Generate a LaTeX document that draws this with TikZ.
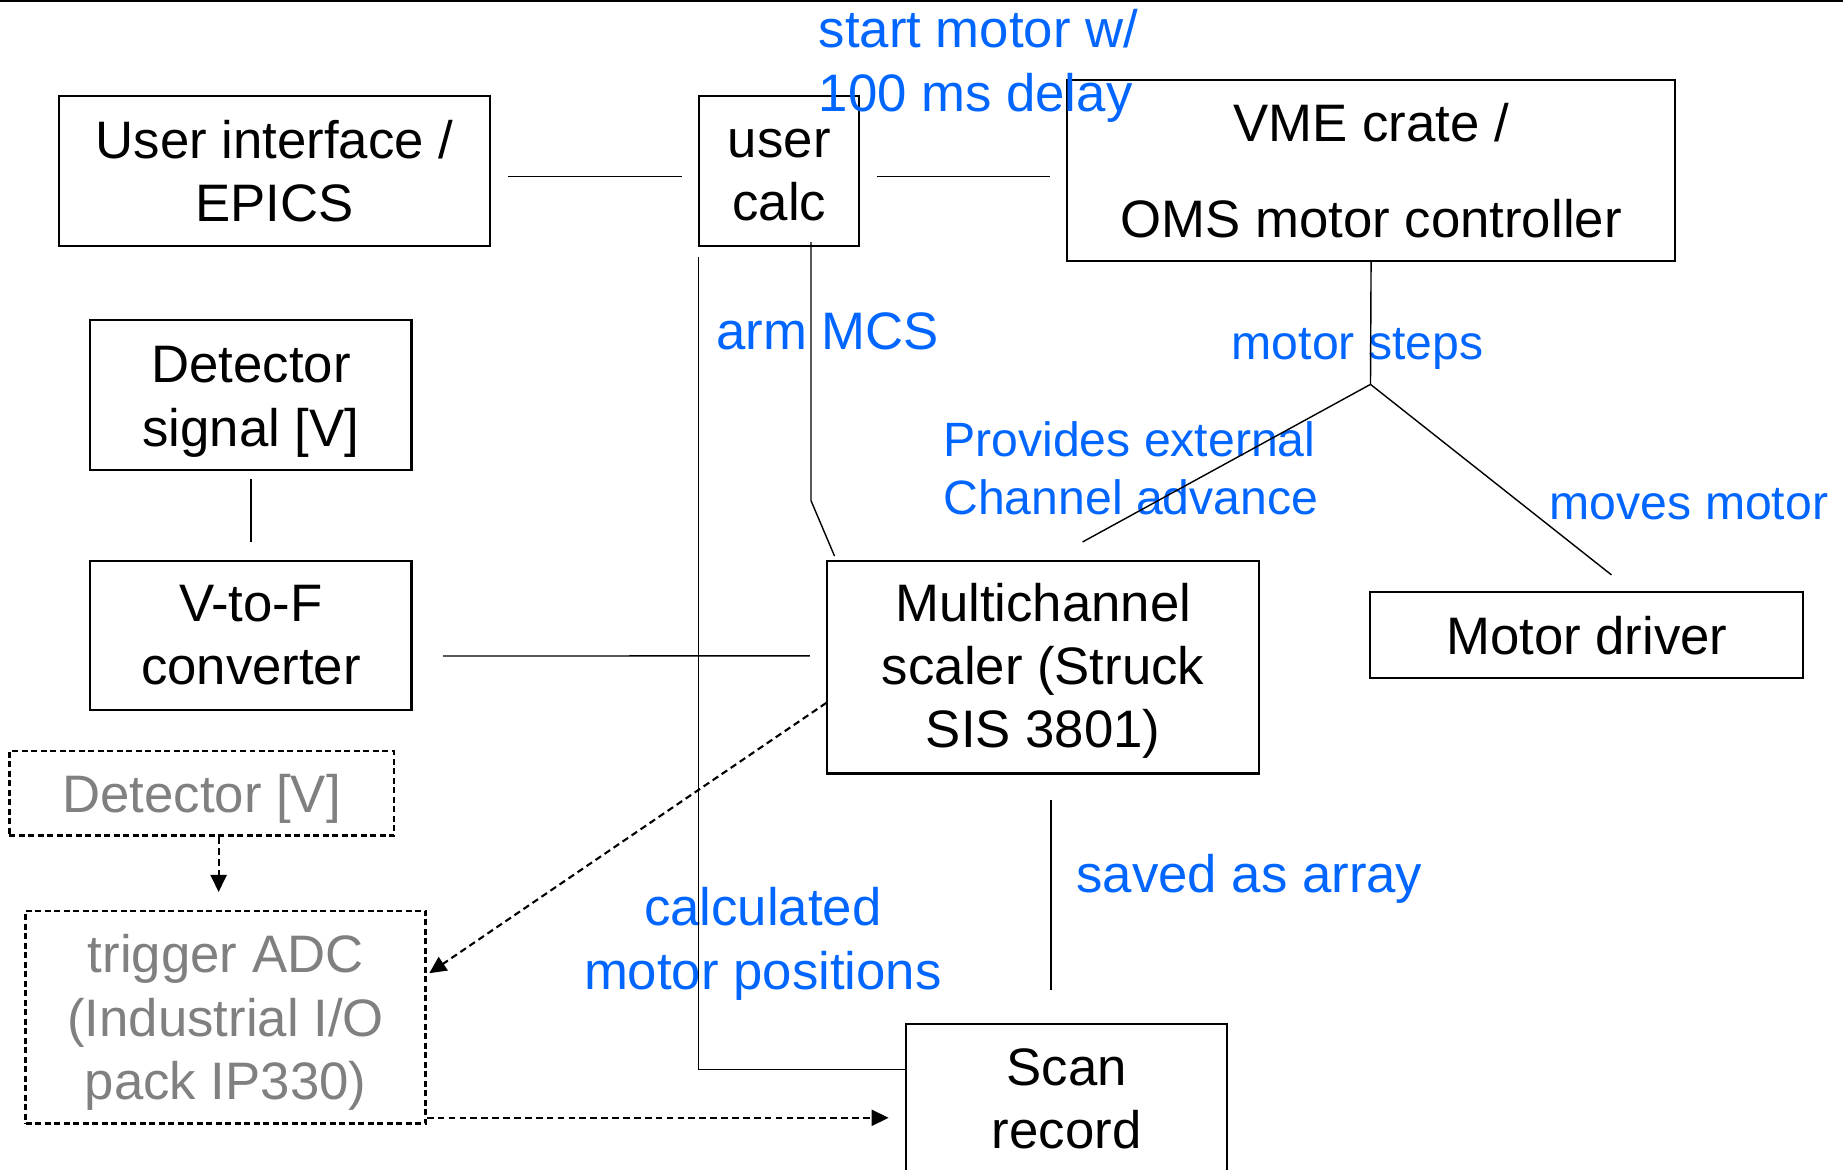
\documentclass[tikz,border=0pt]{standalone}
\usepackage{fontspec}
\setmainfont{Liberation Sans}
\usepackage{xcolor}
\usepackage{tikz}
\usetikzlibrary{arrows.meta}
\usetikzlibrary{calc}
\definecolor{labelblue}{RGB}{0,102,255}
\definecolor{softgray}{RGB}{128,128,128}
\newcommand{\boxfont}{\fontsize{15}{18}\selectfont}
\newcommand{\smallboxfont}{\fontsize{13.7}{16.4}\selectfont}
\newcommand{\topstrut}[1]{\rule{0pt}{#1}}
\tikzset{
	box node/.style={rectangle,draw,semithick,align=center,inner sep=0pt,font=\boxfont},
	dash node/.style={box node,line width=0.75pt,dash pattern=on 1.7pt off 1pt,text=softgray},
	label text/.style={rectangle,text=labelblue,inner sep=0pt,font=\boxfont},
	small label/.style={label text,font=\smallboxfont},
	dash arrow/.style={-{Triangle[length=1.7mm,width=1.6mm]},semithick,dash pattern=on 1.9pt off 1.2pt}
}

\begin{document}
\begin{tikzpicture}[x=0.011754cm,y=-0.011754cm,thin,node distance=2.404cm]
		\useasboundingbox (0,0) rectangle (1568,995);
		\draw[line width=1.4pt] (0,0) -- (1568,0);

		\node[box node,minimum width=4.314cm,minimum height=1.493cm] (1) at (233.5,145.5) {User interface /\\EPICS};
		\node[box node,minimum width=1.599cm,minimum height=1.493cm] (2) at (663,145.5)   {\topstrut{10.4pt}user\\calc};
		\node[box node,minimum width=6.077cm,minimum height=1.810cm] (3) at (1166.5,145)  {VME crate /\\[9.3pt]OMS motor controller};
		\node[box node,minimum width=3.209cm,minimum height=1.504cm] (4) at (213.5,336)   {\topstrut{14.3pt}Detector\\signal [V]};
		\node[box node,minimum width=3.209cm,minimum height=1.493cm] (5) [below of=4]     {V-to-F\\converter};
		\node[box node,minimum width=4.314cm,minimum height=2.127cm] (6) at (887.5,567.5) {\topstrut{13pt}Multichannel\\scaler (Struck\\SIS 3801)};
		\node[box node,minimum width=4.325cm,minimum height=0.858cm] (7) at (1350,540.5)  {Motor driver};
		\node[box node,minimum width=3.209cm,minimum height=1.504cm] (8) at (907.5,935)   {Scan\\record};
		\node[dash node,minimum width=3.844cm,minimum height=0.846cm] (9) at (171.5,675)  {\topstrut{14pt}Detector [V]};
		\node[dash node,minimum width=3.996cm,minimum height=2.127cm] (10) at (192,865.5) {\topstrut{13.8pt}trigger ADC\\(Industrial I/O\\pack IP330)};
		\coordinate (11) at (1166,327);

		\node[label text,anchor=west,align=left] (l1) at (696,56)     {start motor w/\\[0.3pt]100 ms delay};
		\node[label text]                        (l2) at (704,282)    {arm MCS};
		\node[small label]                       (l3) at (1155,297)   {motor steps};
		\node[small label,anchor=west,align=left] (l4) at (802,398.5) {Provides external\\Channel advance};
		\node[small label]                       (l5) at (1437,429)   {moves motor};
		\node[label text]                        (l6) at (1063,748)   {saved as array};
		\node[label text,align=center]           (l7) at (649,803)    {calculated\\motor positions};

		\path
		  ($(1.east)+(14,4.5)$) edge ($(2.west)+(-14,4.5)$)
		  ($(2.east)+(14,4.5)$) edge ($(3.west)+(-14,5)$)
		  ($(4.south)+(0,7)$) edge ($(5.north)+(0,-15)$)
		  ($(5.east)+(26,17.5)$) edge ($(6.west)+(-14,-9.5)$)
		  ($(6.south)+(6.5,22)$) edge ($(8.north)+(-13.5,-28)$)
		  (3.south) edge (11)
		  (11) edge ($(6.north)+(33.5,-15)$)
		  (11) edge ($(7.north)+(21,-14)$);
		\draw ($(2.south)+(27,-4)$) -- ($(2.south)+(27,216)$) -- ($(6.north west)+(7,-3)$);
		\draw ($(2.south west)+(0,9)$) |- ($(8.west)+(0,-25)$);

		\draw[dash arrow] ($(9.south)+(14.5,0)$) -- ($(10.north)+(-6,-15)$);
		\draw[dash arrow] ($(6.west)+(0,30.5)$) -- ($(10.east)+(2,-37.5)$);
		\draw[dash arrow] ($(10.east)+(0,85.5)$) -- ($(8.west)+(-14,16)$);
\end{tikzpicture}
\end{document}
